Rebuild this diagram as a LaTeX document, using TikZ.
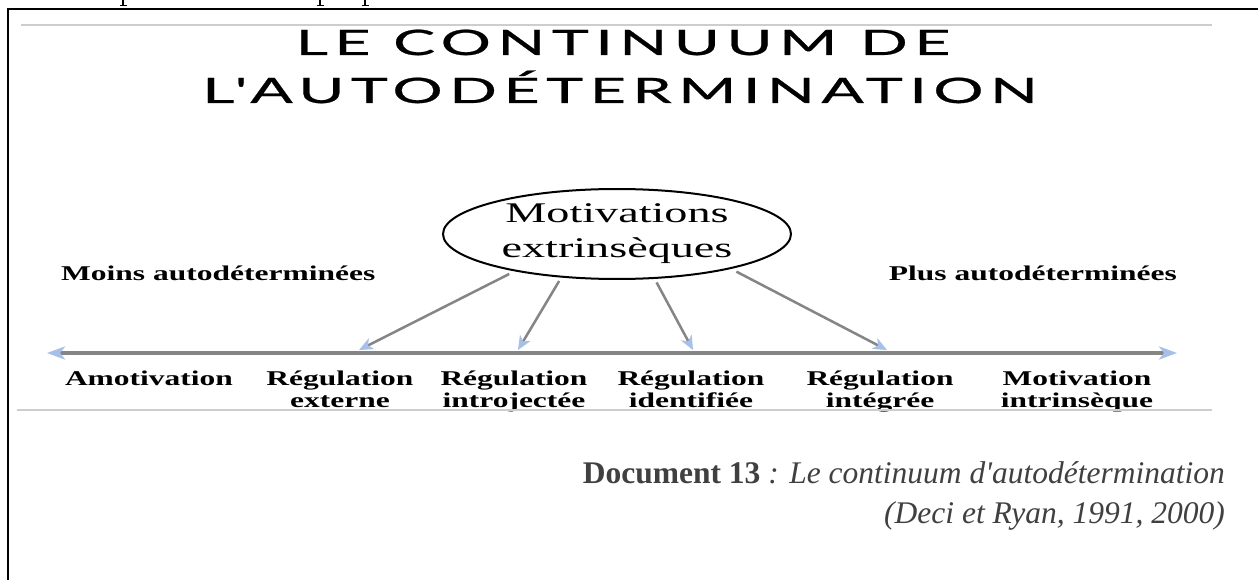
\documentclass[tikz,border=0pt]{standalone}
\usepackage{fontspec}
\usetikzlibrary{arrows.meta,shapes.geometric}
\newfontfamily\lblfont[FakeStretch=1.5]{Liberation Serif}
\newfontfamily\elfont[FakeStretch=1.62]{Liberation Serif}
\newfontfamily\capfont{Liberation Serif}
\newfontfamily\titlefont[FakeStretch=1.8,LetterSpace=18,FakeBold=0.6]{Lato}
\definecolor{tipblue}{HTML}{A7C0E8}
\definecolor{axgray}{HTML}{858585}
\definecolor{rulegray}{HTML}{CDCDCD}
\definecolor{capgray}{HTML}{404040}
\tikzset{
  lbl/.style={font=\lblfont\bfseries\fontsize{21}{22}\selectfont, align=center, anchor=base, inner sep=0pt},
  sidelbl/.style={font=\lblfont\bfseries\fontsize{21}{22}\selectfont, inner sep=0pt},
  ttl/.style={font=\titlefont\fontsize{35}{45}\selectfont, anchor=base, inner sep=0pt},
  feeder/.style={draw=axgray, line width=2.5pt, -{Stealth[length=14pt,width=12pt,inset=4pt,color=tipblue]}},
  axisline/.style={draw=axgray, line width=3.5pt, {Stealth[length=18pt,width=13pt,inset=5pt,color=tipblue]}-{Stealth[length=18pt,width=13pt,inset=5pt,color=tipblue]}},
  rule/.style={draw=rulegray, line width=1.4pt},
  frameline/.style={draw=black, line width=2pt},
  frag/.style={draw=black, line width=1.3pt}
}
\begin{document}
\begin{tikzpicture}[x=1pt,y=-1pt]
\useasboundingbox (0,0) rectangle (1258,580);
\fill[white] (0,0) rectangle (1258,580);
% frame
\draw[frameline] (8,580) -- (8,9) -- (1258,9);
% cut-off descenders at top
\draw[frag] (123,0) -- (123,5);
\draw[frag, line width=0.8pt] (119.5,5) -- (127,5);
\draw[frag] (320,0) -- (320,5);
\draw[frag, line width=0.8pt] (316.5,5) -- (324,5);
\draw[frag] (365,0) -- (365,5);
\draw[frag, line width=0.8pt] (361.5,5) -- (369,5);
% top rule
\draw[rule] (21,25) -- (1212,25);
% title
\node[ttl] (t1) at (623,55) {LE CONTINUUM DE};
\node[ttl] (t2) at (620,103) {L'AUTODÉTERMINATION};
% ellipse
\node[ellipse, draw=black, line width=2pt, minimum width=348pt, minimum height=90pt, inner sep=0pt,
      align=center, font=\elfont\fontsize{28.5}{35}\selectfont] (el) at (617,234) {Motivations\\extrinsèques};
% side labels
\node[sidelbl, anchor=base west] (moins) at (61,280) {Moins autodéterminées};
\node[sidelbl, anchor=base east] (plus) at (1177,280) {Plus autodéterminées};
% axis
\coordinate (axL) at (47,353);
\coordinate (axR) at (1177,353);
\draw[axisline] (axL) -- (axR);
% feeder arrows
\coordinate (f1) at (359,350);
\coordinate (f2) at (518,350);
\coordinate (f3) at (693,350);
\coordinate (f4) at (887,350);
\draw[feeder, shorten <=6pt] (el.200.5) -- (f1);
\draw[feeder, shorten <=4pt] (el.218.3) -- (f2);
\draw[feeder, shorten <=4pt] (el.310.6) -- (f3);
\draw[feeder, shorten <=6pt] (el.343) -- (f4);
% labels
\node[lbl] (amot) at (149,385) {Amotivation};
\node[lbl] (rext) at (340,407) {Régulation\\externe};
\node[lbl] (rint) at (514,407) {Régulation\\introjectée};
\node[lbl] (rid) at (691,407) {Régulation\\identifiée};
\node[lbl] (rin) at (880,407) {Régulation\\intégrée};
\node[lbl] (mint) at (1077,407) {Motivation\\intrinsèque};
% bottom rule
\draw[rule, line width=1.2pt] (17,410) -- (1212,410);
% caption
\node[anchor=base east, align=right, inner sep=0pt, text=capgray,
      font=\capfont\fontsize{31.5}{40}\selectfont] (cap) at (1225,523)
  {\textbf{Document 13}\textit{ : Le continuum d'autodétermination}\\\textit{(Deci et Ryan, 1991, 2000)}};
\end{tikzpicture}
\end{document}
